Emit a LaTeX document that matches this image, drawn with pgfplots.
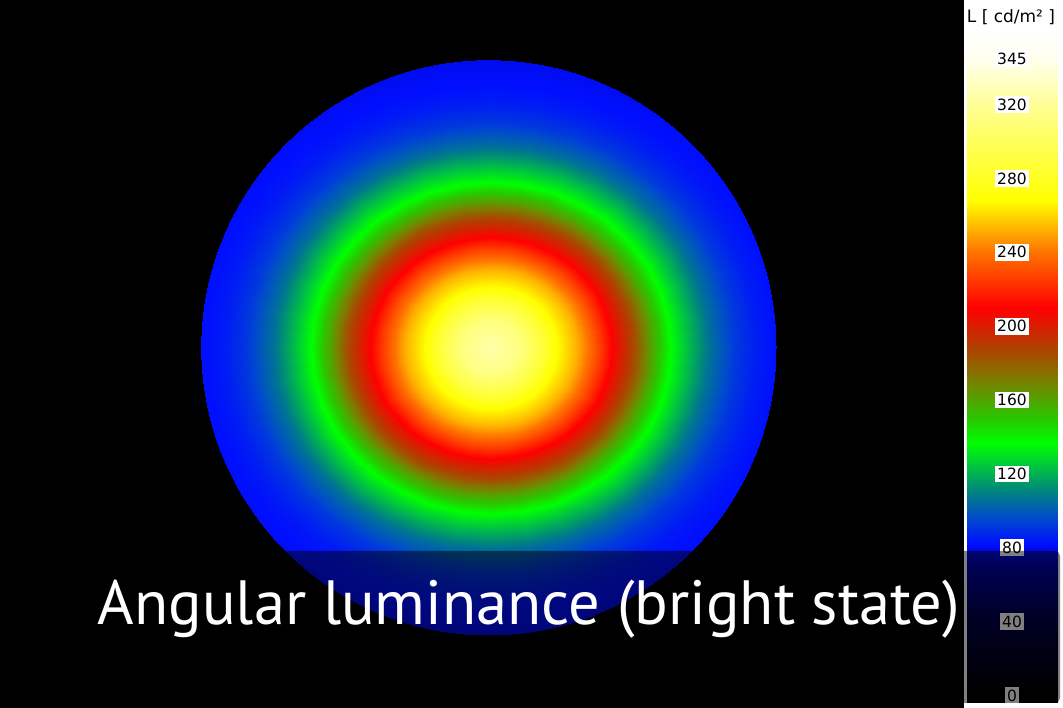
\documentclass[border=0pt]{standalone}
\usepackage{fontspec}
\usepackage{pgfplots}
\pgfplotsset{compat=1.18}
\newfontfamily\ptsans{PT Sans}
\newfontfamily\dejavu{DejaVu Sans}

% luminance colormap, position = L + 4
\pgfplotsset{
  /pgf/number format/assume math mode=true,
  colormap={lum}{
    rgb255(0pt)=(0,0,0);
    rgb255(4pt)=(0,0,0);
    rgb255(44pt)=(0,0,70);
    rgb255(74pt)=(0,0,170);
    rgb255(86pt)=(0,15,255);
    rgb255(99pt)=(0,70,210);
    rgb255(114pt)=(0,130,130);
    rgb255(129pt)=(0,200,60);
    rgb255(141pt)=(0,255,0);
    rgb255(154pt)=(40,200,0);
    rgb255(174pt)=(120,130,0);
    rgb255(194pt)=(180,60,0);
    rgb255(214pt)=(255,0,0);
    rgb255(244pt)=(255,115,0);
    rgb255(272pt)=(255,255,0);
    rgb255(304pt)=(255,255,90);
    rgb255(324pt)=(255,255,150);
    rgb255(349pt)=(255,255,240);
    rgb255(366pt)=(255,255,255);
  },
}

\begin{document}
\begin{tikzpicture}
\fill[black] (0pt,0pt) rectangle (1063pt,708pt);
\fill[white] (964pt,0pt) rectangle (1063pt,708pt);

% luminance map, field of view cut to a circle
\begin{scope}
\clip (488.5pt,360.5pt) circle[radius=287.5pt];
\begin{axis}[
  at={(491pt,360pt)}, anchor=center,
  x=287.5pt, y=264.5pt,
  xmin=-1.2, xmax=1.2, ymin=-1.2, ymax=1.2,
  hide axis, clip=false,
  colormap name=lum,
  point meta min=-4, point meta max=362,
]
% angle (deg), radius (normalized), luminance L [cd/m^2]
\addplot[surf, shader=interp, data cs=polar, mesh/cols=37, point meta=explicit]
table[x=a, y=r, meta=L, row sep=\\] {
a r L\\
0 0 326\\ 10 0 326\\ 20 0 326\\ 30 0 326\\ 40 0 326\\ 50 0 326\\ 60 0 326\\ 70 0 326\\ 80 0 326\\ 90 0 326\\ 100 0 326\\ 110 0 326\\ 120 0 326\\ 130 0 326\\ 140 0 326\\ 150 0 326\\ 160 0 326\\ 170 0 326\\ 180 0 326\\ 190 0 326\\ 200 0 326\\ 210 0 326\\ 220 0 326\\ 230 0 326\\ 240 0 326\\ 250 0 326\\ 260 0 326\\ 270 0 326\\ 280 0 326\\ 290 0 326\\ 300 0 326\\ 310 0 326\\ 320 0 326\\ 330 0 326\\ 340 0 326\\ 350 0 326\\ 360 0 326\\
0 .10 313\\ 10 .10 313\\ 20 .10 313\\ 30 .10 313\\ 40 .10 313\\ 50 .10 313\\ 60 .10 313\\ 70 .10 313\\ 80 .10 313\\ 90 .10 313\\ 100 .10 313\\ 110 .10 313\\ 120 .10 313\\ 130 .10 313\\ 140 .10 313\\ 150 .10 313\\ 160 .10 313\\ 170 .10 313\\ 180 .10 313\\ 190 .10 313\\ 200 .10 313\\ 210 .10 313\\ 220 .10 313\\ 230 .10 313\\ 240 .10 313\\ 250 .10 313\\ 260 .10 313\\ 270 .10 313\\ 280 .10 313\\ 290 .10 313\\ 300 .10 313\\ 310 .10 313\\ 320 .10 313\\ 330 .10 313\\ 340 .10 313\\ 350 .10 313\\ 360 .10 313\\
0 .17 292\\ 10 .17 292\\ 20 .17 292\\ 30 .17 292\\ 40 .17 292\\ 50 .17 292\\ 60 .17 292\\ 70 .17 292\\ 80 .17 292\\ 90 .17 292\\ 100 .17 292\\ 110 .17 292\\ 120 .17 292\\ 130 .17 292\\ 140 .17 292\\ 150 .17 292\\ 160 .17 292\\ 170 .17 292\\ 180 .17 292\\ 190 .17 292\\ 200 .17 292\\ 210 .17 292\\ 220 .17 292\\ 230 .17 292\\ 240 .17 292\\ 250 .17 292\\ 260 .17 292\\ 270 .17 292\\ 280 .17 292\\ 290 .17 292\\ 300 .17 292\\ 310 .17 292\\ 320 .17 292\\ 330 .17 292\\ 340 .17 292\\ 350 .17 292\\ 360 .17 292\\
0 .23 268\\ 10 .23 268\\ 20 .23 268\\ 30 .23 268\\ 40 .23 268\\ 50 .23 268\\ 60 .23 268\\ 70 .23 268\\ 80 .23 268\\ 90 .23 268\\ 100 .23 268\\ 110 .23 268\\ 120 .23 268\\ 130 .23 268\\ 140 .23 268\\ 150 .23 268\\ 160 .23 268\\ 170 .23 268\\ 180 .23 268\\ 190 .23 268\\ 200 .23 268\\ 210 .23 268\\ 220 .23 268\\ 230 .23 268\\ 240 .23 268\\ 250 .23 268\\ 260 .23 268\\ 270 .23 268\\ 280 .23 268\\ 290 .23 268\\ 300 .23 268\\ 310 .23 268\\ 320 .23 268\\ 330 .23 268\\ 340 .23 268\\ 350 .23 268\\ 360 .23 268\\
0 .30 252\\ 10 .30 252\\ 20 .30 252\\ 30 .30 252\\ 40 .30 252\\ 50 .30 252\\ 60 .30 252\\ 70 .30 252\\ 80 .30 252\\ 90 .30 252\\ 100 .30 252\\ 110 .30 252\\ 120 .30 252\\ 130 .30 252\\ 140 .30 252\\ 150 .30 252\\ 160 .30 252\\ 170 .30 252\\ 180 .30 252\\ 190 .30 252\\ 200 .30 252\\ 210 .30 252\\ 220 .30 252\\ 230 .30 252\\ 240 .30 252\\ 250 .30 252\\ 260 .30 252\\ 270 .30 252\\ 280 .30 252\\ 290 .30 252\\ 300 .30 252\\ 310 .30 252\\ 320 .30 252\\ 330 .30 252\\ 340 .30 252\\ 350 .30 252\\ 360 .30 252\\
0 .36 232\\ 10 .36 232\\ 20 .36 232\\ 30 .36 232\\ 40 .36 232\\ 50 .36 232\\ 60 .36 232\\ 70 .36 232\\ 80 .36 232\\ 90 .36 232\\ 100 .36 232\\ 110 .36 232\\ 120 .36 232\\ 130 .36 232\\ 140 .36 232\\ 150 .36 232\\ 160 .36 232\\ 170 .36 232\\ 180 .36 232\\ 190 .36 232\\ 200 .36 232\\ 210 .36 232\\ 220 .36 232\\ 230 .36 232\\ 240 .36 232\\ 250 .36 232\\ 260 .36 232\\ 270 .36 232\\ 280 .36 232\\ 290 .36 232\\ 300 .36 232\\ 310 .36 232\\ 320 .36 232\\ 330 .36 232\\ 340 .36 232\\ 350 .36 232\\ 360 .36 232\\
0 .42 210\\ 10 .42 210\\ 20 .42 210\\ 30 .42 210\\ 40 .42 210\\ 50 .42 210\\ 60 .42 210\\ 70 .42 210\\ 80 .42 210\\ 90 .42 210\\ 100 .42 210\\ 110 .42 210\\ 120 .42 210\\ 130 .42 210\\ 140 .42 210\\ 150 .42 210\\ 160 .42 210\\ 170 .42 210\\ 180 .42 210\\ 190 .42 210\\ 200 .42 210\\ 210 .42 210\\ 220 .42 210\\ 230 .42 210\\ 240 .42 210\\ 250 .42 210\\ 260 .42 210\\ 270 .42 210\\ 280 .42 210\\ 290 .42 210\\ 300 .42 210\\ 310 .42 210\\ 320 .42 210\\ 330 .42 210\\ 340 .42 210\\ 350 .42 210\\ 360 .42 210\\
0 .50 185\\ 10 .50 185\\ 20 .50 185\\ 30 .50 185\\ 40 .50 185\\ 50 .50 185\\ 60 .50 185\\ 70 .50 185\\ 80 .50 185\\ 90 .50 185\\ 100 .50 185\\ 110 .50 185\\ 120 .50 185\\ 130 .50 185\\ 140 .50 185\\ 150 .50 185\\ 160 .50 185\\ 170 .50 185\\ 180 .50 185\\ 190 .50 185\\ 200 .50 185\\ 210 .50 185\\ 220 .50 185\\ 230 .50 185\\ 240 .50 185\\ 250 .50 185\\ 260 .50 185\\ 270 .50 185\\ 280 .50 185\\ 290 .50 185\\ 300 .50 185\\ 310 .50 185\\ 320 .50 185\\ 330 .50 185\\ 340 .50 185\\ 350 .50 185\\ 360 .50 185\\
0 .56 160\\ 10 .56 160\\ 20 .56 160\\ 30 .56 160\\ 40 .56 160\\ 50 .56 160\\ 60 .56 160\\ 70 .56 160\\ 80 .56 160\\ 90 .56 160\\ 100 .56 160\\ 110 .56 160\\ 120 .56 160\\ 130 .56 160\\ 140 .56 160\\ 150 .56 160\\ 160 .56 160\\ 170 .56 160\\ 180 .56 160\\ 190 .56 160\\ 200 .56 160\\ 210 .56 160\\ 220 .56 160\\ 230 .56 160\\ 240 .56 160\\ 250 .56 160\\ 260 .56 160\\ 270 .56 160\\ 280 .56 160\\ 290 .56 160\\ 300 .56 160\\ 310 .56 160\\ 320 .56 160\\ 330 .56 160\\ 340 .56 160\\ 350 .56 160\\ 360 .56 160\\
0 .626 137\\ 10 .626 137\\ 20 .626 137\\ 30 .626 137\\ 40 .626 137\\ 50 .626 137\\ 60 .626 137\\ 70 .626 137\\ 80 .626 137\\ 90 .626 137\\ 100 .626 137\\ 110 .626 137\\ 120 .626 137\\ 130 .626 137\\ 140 .626 137\\ 150 .626 137\\ 160 .626 137\\ 170 .626 137\\ 180 .626 137\\ 190 .626 137\\ 200 .626 137\\ 210 .626 137\\ 220 .626 137\\ 230 .626 137\\ 240 .626 137\\ 250 .626 137\\ 260 .626 137\\ 270 .626 137\\ 280 .626 137\\ 290 .626 137\\ 300 .626 137\\ 310 .626 137\\ 320 .626 137\\ 330 .626 137\\ 340 .626 137\\ 350 .626 137\\ 360 .626 137\\
0 .69 122\\ 10 .69 122\\ 20 .69 122\\ 30 .69 122\\ 40 .69 122\\ 50 .69 122\\ 60 .69 122\\ 70 .69 122\\ 80 .69 122\\ 90 .69 122\\ 100 .69 122\\ 110 .69 122\\ 120 .69 122\\ 130 .69 122\\ 140 .69 122\\ 150 .69 122\\ 160 .69 122\\ 170 .69 122\\ 180 .69 122\\ 190 .69 122\\ 200 .69 122\\ 210 .69 122\\ 220 .69 122\\ 230 .69 122\\ 240 .69 122\\ 250 .69 122\\ 260 .69 122\\ 270 .69 122\\ 280 .69 122\\ 290 .69 122\\ 300 .69 122\\ 310 .69 122\\ 320 .69 122\\ 330 .69 122\\ 340 .69 122\\ 350 .69 122\\ 360 .69 122\\
0 .76 106\\ 10 .76 106\\ 20 .76 106\\ 30 .76 106\\ 40 .76 106\\ 50 .76 106\\ 60 .76 106\\ 70 .76 106\\ 80 .76 106\\ 90 .76 106\\ 100 .76 106\\ 110 .76 106\\ 120 .76 106\\ 130 .76 106\\ 140 .76 106\\ 150 .76 106\\ 160 .76 106\\ 170 .76 106\\ 180 .76 106\\ 190 .76 106\\ 200 .76 106\\ 210 .76 106\\ 220 .76 106\\ 230 .76 106\\ 240 .76 106\\ 250 .76 106\\ 260 .76 106\\ 270 .76 106\\ 280 .76 106\\ 290 .76 106\\ 300 .76 106\\ 310 .76 106\\ 320 .76 106\\ 330 .76 106\\ 340 .76 106\\ 350 .76 106\\ 360 .76 106\\
0 .85 92\\ 10 .85 92\\ 20 .85 92\\ 30 .85 92\\ 40 .85 92\\ 50 .85 92\\ 60 .85 92\\ 70 .85 92\\ 80 .85 92\\ 90 .85 92\\ 100 .85 92\\ 110 .85 92\\ 120 .85 92\\ 130 .85 92\\ 140 .85 92\\ 150 .85 92\\ 160 .85 92\\ 170 .85 92\\ 180 .85 92\\ 190 .85 92\\ 200 .85 92\\ 210 .85 92\\ 220 .85 92\\ 230 .85 92\\ 240 .85 92\\ 250 .85 92\\ 260 .85 92\\ 270 .85 92\\ 280 .85 92\\ 290 .85 92\\ 300 .85 92\\ 310 .85 92\\ 320 .85 92\\ 330 .85 92\\ 340 .85 92\\ 350 .85 92\\ 360 .85 92\\
0 .93 85\\ 10 .93 85\\ 20 .93 85\\ 30 .93 85\\ 40 .93 85\\ 50 .93 85\\ 60 .93 85\\ 70 .93 85\\ 80 .93 85\\ 90 .93 85\\ 100 .93 85\\ 110 .93 85\\ 120 .93 85\\ 130 .93 85\\ 140 .93 85\\ 150 .93 85\\ 160 .93 85\\ 170 .93 85\\ 180 .93 85\\ 190 .93 85\\ 200 .93 85\\ 210 .93 85\\ 220 .93 85\\ 230 .93 85\\ 240 .93 85\\ 250 .93 85\\ 260 .93 85\\ 270 .93 85\\ 280 .93 85\\ 290 .93 85\\ 300 .93 85\\ 310 .93 85\\ 320 .93 85\\ 330 .93 85\\ 340 .93 85\\ 350 .93 85\\ 360 .93 85\\
0 1 82\\ 10 1 82\\ 20 1 82\\ 30 1 82\\ 40 1 82\\ 50 1 82\\ 60 1 82\\ 70 1 82\\ 80 1 82\\ 90 1 82\\ 100 1 82\\ 110 1 82\\ 120 1 82\\ 130 1 82\\ 140 1 82\\ 150 1 82\\ 160 1 82\\ 170 1 82\\ 180 1 82\\ 190 1 82\\ 200 1 82\\ 210 1 82\\ 220 1 82\\ 230 1 82\\ 240 1 82\\ 250 1 82\\ 260 1 82\\ 270 1 82\\ 280 1 82\\ 290 1 82\\ 300 1 82\\ 310 1 82\\ 320 1 82\\ 330 1 82\\ 340 1 82\\ 350 1 82\\ 360 1 82\\
0 1.12 79\\ 10 1.12 79\\ 20 1.12 79\\ 30 1.12 79\\ 40 1.12 79\\ 50 1.12 79\\ 60 1.12 79\\ 70 1.12 79\\ 80 1.12 79\\ 90 1.12 79\\ 100 1.12 79\\ 110 1.12 79\\ 120 1.12 79\\ 130 1.12 79\\ 140 1.12 79\\ 150 1.12 79\\ 160 1.12 79\\ 170 1.12 79\\ 180 1.12 79\\ 190 1.12 79\\ 200 1.12 79\\ 210 1.12 79\\ 220 1.12 79\\ 230 1.12 79\\ 240 1.12 79\\ 250 1.12 79\\ 260 1.12 79\\ 270 1.12 79\\ 280 1.12 79\\ 290 1.12 79\\ 300 1.12 79\\ 310 1.12 79\\ 320 1.12 79\\ 330 1.12 79\\ 340 1.12 79\\ 350 1.12 79\\ 360 1.12 79\\
};
\end{axis}
\end{scope}

% colour scale
\begin{axis}[
  at={(967pt,5pt)}, anchor=south west,
  scale only axis, width=90pt, height=676pt,
  xmin=0, xmax=1, ymin=-4, ymax=362,
  axis on top,
  axis line style={draw=none},
  xtick=\empty, major tick length=0pt,
  ytick={0,40,80,120,160,200,240,280,320,345},
  yticklabel style={anchor=center, xshift=45pt, fill=white, text=black,
    inner xsep=2pt, inner ysep=2.5pt,
    font=\dejavu\fontsize{15.5}{16}\selectfont},
  colormap name=lum,
  point meta min=-4, point meta max=362,
]
\addplot[surf, shader=interp, mesh/cols=2, point meta=y]
table[row sep=\\] {
x y\\
0 -4\\ 1 -4\\ 0 0\\ 1 0\\ 0 40\\ 1 40\\ 0 70\\ 1 70\\ 0 82\\ 1 82\\
0 95\\ 1 95\\ 0 110\\ 1 110\\ 0 125\\ 1 125\\ 0 137\\ 1 137\\
0 150\\ 1 150\\ 0 170\\ 1 170\\ 0 190\\ 1 190\\ 0 210\\ 1 210\\
0 240\\ 1 240\\ 0 268\\ 1 268\\ 0 300\\ 1 300\\ 0 320\\ 1 320\\
0 345\\ 1 345\\ 0 362\\ 1 362\\
};
\end{axis}

\node[text=black, font=\dejavu\fontsize{17}{18}\selectfont] at (1011pt,691pt) {L [ cd/m² ]};

% title band
\fill[black, opacity=0.5, rounded corners=5pt] (0pt,5pt) rectangle (1060pt,157pt);
\node[text=white, anchor=base, font=\ptsans\fontsize{62.5}{70}\selectfont] at (529pt,83pt) {Angular luminance (bright state)};

\pgfresetboundingbox
\path[use as bounding box] (0pt,0pt) rectangle (1063pt,708pt);
\end{tikzpicture}
\end{document}
